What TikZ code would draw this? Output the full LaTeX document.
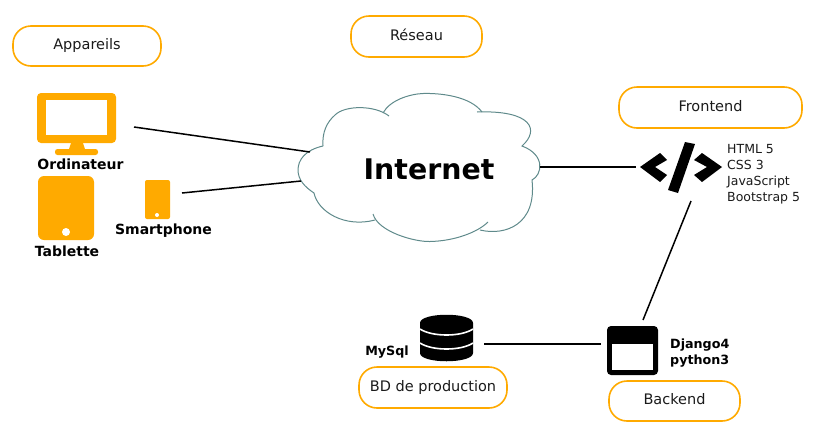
\documentclass[tikz,border=0pt]{standalone}
\usepackage{fontspec}
\setmainfont{DejaVu Sans}
\definecolor{pillorange}{HTML}{FFAA00}
\definecolor{cloudline}{HTML}{5F8A8B}
\definecolor{textdark}{HTML}{1A1A1A}
\tikzset{
  pill/.style={draw=pillorange, line width=1.6pt, rounded corners=18pt, text=textdark, font=\fontsize{14.5}{16}\selectfont, inner sep=0pt, text height=10pt, text depth=3pt},
  devlabel/.style={font=\bfseries\fontsize{14}{16}\selectfont, text=black, inner sep=0pt},
  smalllabel/.style={font=\bfseries\fontsize{12.7}{16}\selectfont, text=black, inner sep=0pt, align=left},
  link/.style={black, line width=1.5pt}
}
\begin{document}
\begin{tikzpicture}[x=1pt, y=-1pt]
  \useasboundingbox (0,0) rectangle (818,445);

  % Titles
  \node[pill, minimum width=148pt, minimum height=40pt] (appareils) at (87,46) {Appareils};
  \node[pill, minimum width=131pt, minimum height=41pt] (reseau) at (416.5,36.5) {Réseau};
  \node[pill, minimum width=183pt, minimum height=41pt] (frontend) at (710.5,107.5) {Frontend};
  \node[pill, minimum width=148pt, minimum height=41pt] (production) at (433,387.5) {BD de production};
  \node[pill, minimum width=131pt, minimum height=40pt] (backend) at (674.5,401) {Backend};

  % Cloud
  \draw[cloudline, line width=1pt]
    (323,146) .. controls (305,150) and (298,160) .. (298,170)
    .. controls (298,180) and (305,187) .. (314,193)
    .. controls (318,212) and (345,228) .. (375,220);
  \draw[cloudline, line width=1pt]
    (373,214) .. controls (378,232) and (415,242) .. (430,241.5)
    .. controls (455,241) and (478,232) .. (488,222);
  \draw[cloudline, line width=1pt]
    (480,230) .. controls (505,236) and (537,225) .. (532,180)
    .. controls (542,175) and (546,155) .. (522,146)
    .. controls (540,130) and (532,110) .. (477,112);
  \draw[cloudline, line width=1pt]
    (482,112) .. controls (470,96) and (440,93) .. (423,93.5)
    .. controls (410,94) and (390,100) .. (383,113);
  \draw[cloudline, line width=1pt]
    (389,116) .. controls (375,105) and (345,105) .. (335,115)
    .. controls (327,122) and (322,132) .. (323,146);
  \node[font=\bfseries\fontsize{28.4}{32}\selectfont, text=black, inner sep=0pt] (internet) at (429,169) {Internet};

  % Ordinateur
  \fill[pillorange, rounded corners=4pt] (37,93) rectangle (116,143);
  \fill[white] (46,100) rectangle (107,135);
  \fill[pillorange] (71,143) -- (83,143) -- (85,149) -- (69,149) -- cycle;
  \fill[pillorange, rounded corners=2.5pt] (55,149) rectangle (98,155);
  \node[devlabel] (ordinateur) at (80.5,164) {Ordinateur};

  % Tablette
  \fill[pillorange, rounded corners=6pt] (38,176) rectangle (94,240);
  \fill[white] (66,232) circle (4pt);
  \node[devlabel] (tablette) at (67,251) {Tablette};

  % Smartphone
  \fill[pillorange, rounded corners=2pt] (145,180) rectangle (170,219);
  \fill[white] (157,215) circle (2pt);
  \node[devlabel] (smartphone) at (163.5,231) {Smartphone};

  % Code
  \fill[black] (660,153) -- (667,160) -- (655,167) -- (667,175) -- (660,182) -- (640,167) -- cycle;
  \fill[black] (702,153) -- (694,160) -- (707,167) -- (694,175) -- (702,182) -- (722,167) -- cycle;
  \fill[black] (685,142) -- (695,144) -- (678,193) -- (668,190) -- cycle;
  \node[font=\fontsize{12.5}{16}\selectfont, text=textdark, inner sep=0pt, align=left, anchor=west] (langages) at (727,174.5) {HTML 5\\CSS 3\\JavaScript\\Bootstrap 5};

  % Base de donnees
  \fill[black] (420,323) .. controls (420,312) and (473,312) .. (473,323) -- (473,353)
    .. controls (473,364) and (420,364) .. (420,353) -- cycle;
  \foreach \y in {329,343} \draw[white, line width=1.6pt] (420,\y) .. controls (432,\y+8) and (461,\y+8) .. (473,\y);
  \node[smalllabel] (mysql) at (387,352) {MySql};

  % Fenetre
  \fill[black, rounded corners=4pt] (607,326) rectangle (658,375);
  \fill[white] (612,344) rectangle (653,370);
  \node[smalllabel, anchor=west] (django) at (670,353) {Django4\\python3};

  % Connectors
  \coordinate (ordiend) at (134,127);
  \coordinate (ordicloud) at (310,152);
  \coordinate (phoneend) at (182,193);
  \coordinate (phonecloud) at (301,181);
  \coordinate (cloudright) at (540,167);
  \coordinate (codeleft) at (636,167);
  \coordinate (codebottom) at (691,201);
  \coordinate (windowtop) at (643,320);
  \coordinate (dbright) at (484,344);
  \coordinate (windowleft) at (601,344);
  \draw[link] (ordiend) -- (ordicloud);
  \draw[link] (phoneend) -- (phonecloud);
  \draw[link] (cloudright) -- (codeleft);
  \draw[link] (codebottom) -- (windowtop);
  \draw[link] (dbright) -- (windowleft);
\end{tikzpicture}
\end{document}
